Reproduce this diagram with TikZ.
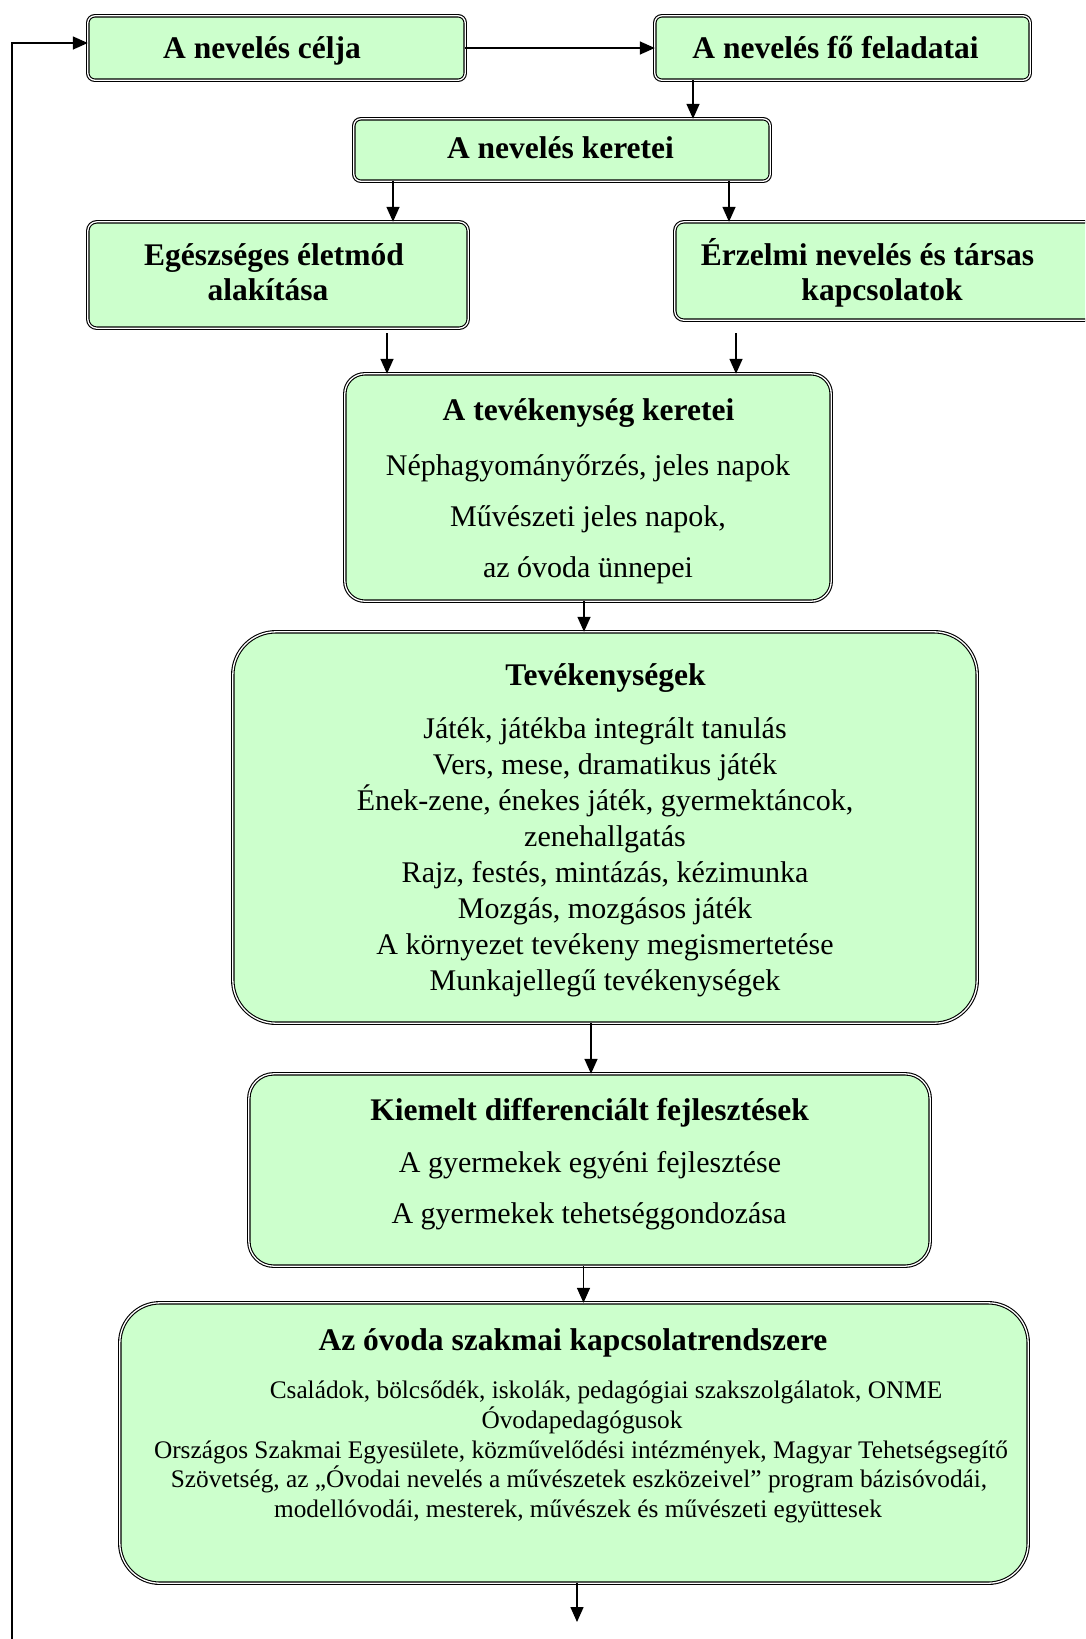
\documentclass[tikz,border=0pt]{standalone}
\usepackage{fontspec}
\setmainfont{Liberation Serif}
\usetikzlibrary{arrows.meta}
\definecolor{boxgreen}{RGB}{204,255,204}
\begin{document}
\begin{tikzpicture}[x=1pt,y=-1pt,
  box/.style={draw=black, line width=1.1pt, double=white, double distance=1.3pt, fill=boxgreen, inner sep=0pt, outer sep=0pt},
  arr/.style={line width=1.5pt, -{Triangle[length=15pt,width=13pt]}},
  ttl/.style={font=\fontsize{31.5}{36}\selectfont\bfseries, anchor=base, inner sep=0pt},
  txt/.style={font=\fontsize{30}{36}\selectfont, anchor=base, inner sep=0pt},
  sml/.style={font=\fontsize{25.3}{30}\selectfont, anchor=base, inner sep=0pt}]
\useasboundingbox (0,0) rectangle (1085,1639);
\fill[white] (0,0) rectangle (1085,1639);
\clip (0,0) rectangle (1085,1639);

% boxes
\node[box, rounded corners=7pt, minimum width=377.4pt, minimum height=64.4pt] (celja) at (276.5,48) {};
\node[box, rounded corners=7pt, minimum width=375.4pt, minimum height=64.4pt] (feladatai) at (842.5,48) {};
\node[box, rounded corners=7pt, minimum width=416.4pt, minimum height=62.4pt] (keretei) at (562,150) {};
\node[box, rounded corners=9pt, minimum width=380.4pt, minimum height=106.4pt] (egesz) at (278,275) {};
\node[box, rounded corners=9pt, minimum width=423.4pt, minimum height=98.4pt] (erzelmi) at (886.5,271) {};
\node[box, rounded corners=20pt, minimum width=486.4pt, minimum height=227.4pt] (tevkeret) at (588,487.5) {};
\node[box, rounded corners=43pt, minimum width=744.4pt, minimum height=391.4pt] (tev) at (605,827.5) {};
\node[box, rounded corners=25pt, minimum width=681.4pt, minimum height=192.4pt] (kiemelt) at (589.5,1170) {};
\node[box, rounded corners=40pt, minimum width=908.4pt, minimum height=280.4pt] (szakmai) at (574,1443) {};

% texts
\node[ttl] (t1) at (262,58) {A nevelés célja};
\node[ttl] (t2) at (835.5,58) {A nevelés fő feladatai};
\node[ttl] (t3) at (560.5,158) {A nevelés keretei};
\node[ttl] (t4a) at (274,265) {Egészséges életmód};
\node[ttl] (t4b) at (268,300) {alakítása};
\node[ttl] (t5a) at (867.5,265) {Érzelmi nevelés és társas};
\node[ttl] (t5b) at (882,300) {kapcsolatok};

\node[ttl] (t6) at (588.5,420) {A tevékenység keretei};
\node[txt] (t6a) at (588,475) {Néphagyományőrzés, jeles napok};
\node[txt] (t6b) at (588,526) {Művészeti jeles napok,};
\node[txt] (t6c) at (588,577) {az óvoda ünnepei};

\node[ttl] (t7) at (605.5,685) {Tevékenységek};
\node[txt] (t7a) at (605,738) {Játék, játékba integrált tanulás};
\node[txt] (t7b) at (605,774) {Vers, mese, dramatikus játék};
\node[txt] (t7c) at (605,810) {Ének-zene, énekes játék, gyermektáncok,};
\node[txt] (t7d) at (605,846) {zenehallgatás};
\node[txt] (t7e) at (605,882) {Rajz, festés, mintázás, kézimunka};
\node[txt] (t7f) at (605,918) {Mozgás, mozgásos játék};
\node[txt] (t7g) at (605,954) {A környezet tevékeny megismertetése};
\node[txt] (t7h) at (605,990) {Munkajellegű tevékenységek};

\node[ttl] (t8) at (589.5,1120) {Kiemelt differenciált fejlesztések};
\node[txt] (t8a) at (590,1172) {A gyermekek egyéni fejlesztése};
\node[txt] (t8b) at (589,1223) {A gyermekek tehetséggondozása};

\node[ttl] (t9) at (573,1350) {Az óvoda szakmai kapcsolatrendszere};
\node[sml] (t9a) at (606,1398) {Családok, bölcsődék, iskolák, pedagógiai szakszolgálatok, ONME};
\node[sml] (t9b) at (582,1428) {Óvodapedagógusok};
\node[sml] (t9c) at (581,1458) {Országos Szakmai Egyesülete, közművelődési intézmények, Magyar Tehetségsegítő};
\node[sml] (t9d) at (579,1487) {Szövetség, az „Óvodai nevelés a művészetek eszközeivel” program bázisóvodái,};
\node[sml] (t9e) at (578,1517) {modellóvodái, mesterek, művészek és művészeti együttesek};

% connector x positions
\coordinate (xa) at (693,0);
\coordinate (xb) at (393,0);
\coordinate (xc) at (729,0);
\coordinate (xd) at (387,0);
\coordinate (xe) at (736,0);
\coordinate (xf) at (584,0);
\coordinate (xg) at (591,0);
\coordinate (xh) at (583.5,0);
\coordinate (fb) at (12,1645);
\coordinate (endpt) at (577,1622);

% connectors
\draw[arr] (fb) |- ([yshift=5pt]celja.west);
\draw[arr] (celja.east) -- (feladatai.west);
\draw[arr] (feladatai.south -| xa) -- (keretei.north -| xa);
\draw[arr] (keretei.south -| xb) -- (egesz.north -| xb);
\draw[arr] (keretei.south -| xc) -- (erzelmi.north -| xc);
\draw[arr, shorten <=5pt] (egesz.south -| xd) -- (tevkeret.north -| xd);
\draw[arr, shorten <=13pt] (erzelmi.south -| xe) -- (tevkeret.north -| xe);
\draw[arr] (tevkeret.south -| xf) -- (tev.north -| xf);
\draw[arr] (tev.south -| xg) -- (kiemelt.north -| xg);
\draw[arr] (kiemelt.south -| xh) -- (szakmai.north -| xh);
\draw[arr] (szakmai.south -| endpt) -- (endpt);
\end{tikzpicture}
\end{document}
